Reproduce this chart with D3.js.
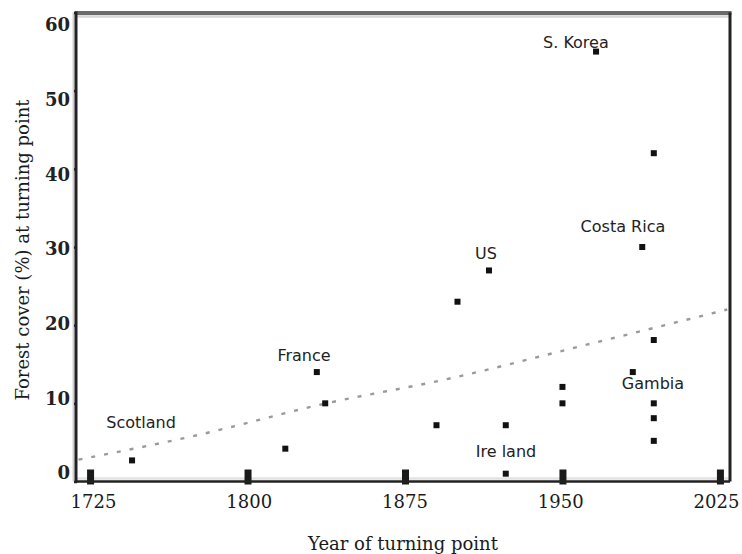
<!DOCTYPE html>
<html>
<head>
<meta charset="utf-8">
<script src="https://cdn.jsdelivr.net/npm/d3@7"></script>
<style>
  html, body { margin: 0; padding: 0; background: #fff; }
  svg { display: block; }
</style>
</head>
<body>
<svg id="chart" width="742" height="554"></svg>
<script>
// ---- data ----
const years  = [1745, 1818, 1833, 1837, 1890, 1900, 1915, 1923, 1923, 1950, 1950, 1966, 1983.5, 1988, 1993.5, 1993.5, 1993.5, 1993.5, 1993.5];
const cover  = [2.7, 4.2, 14, 10, 7.2, 23, 27, 7.2, 1, 12.1, 10, 55, 14, 30, 42, 18.1, 10, 8.1, 5.2];
const trendYears = [1719.5, 1774, 1837.5, 1895, 1961.5, 2028.5];
const trendCover = [2.8, 5.8, 10.0, 13.1, 17.5, 22.0];
const labelNames = ["S. Korea", "Costa Rica", "US", "Gambia", "Ire land", "France", "Scotland"];
const labelYears = [1956.4, 1978.8, 1913.6, 1993.1, 1923.1, 1826.9, 1749.3];
const labelCover = [56.1, 32.6, 29.2, 12.5, 3.9, 16.1, 7.5];
const xTicks = [1725, 1800, 1875, 1950, 2025];
const yTicks = [0, 10, 20, 30, 40, 50, 60];
const xTitle = "Year of turning point";
const yTitle = "Forest cover (%) at turning point";

// ---- layout ----
const svg = d3.select("#chart");
const L = 76, R = 730, T = 12.5, B = 481.5;
const x = d3.scaleLinear().domain([1718.3, 2029.8]).range([L, R]);
const y = d3.scaleLinear().domain([0, 60]).range([B, T]);
// tick labels in the reference sit slightly compressed relative to the ticks
const xLab = d3.scaleLinear().domain([1725, 2025]).range([93, 716]);
const yLab = d3.scaleLinear().domain([0, 60]).range([473, 25]);

const serif = "'DejaVu Serif', 'Liberation Serif', serif";
const sans = "'DejaVu Sans', 'Liberation Sans', sans-serif";

svg.append("defs").append("clipPath").attr("id", "plotclip")
  .append("rect").attr("x", L).attr("y", T).attr("width", R - L).attr("height", B - T);

// frame shading
svg.append("line").attr("x1", L - 2.5).attr("x2", L - 2.5).attr("y1", T).attr("y2", B)
  .attr("stroke", "#d0d0d0").attr("stroke-width", 2);
svg.append("line").attr("x1", L).attr("x2", R).attr("y1", T + 4).attr("y2", T + 4)
  .attr("stroke", "#d6d6d6").attr("stroke-width", 2.5);
svg.append("line").attr("x1", L).attr("x2", R).attr("y1", B - 3).attr("y2", B - 3)
  .attr("stroke", "#e2e2e2").attr("stroke-width", 2.5);

// trend line (dotted)
const pts = trendYears.map((d, i) => [d, trendCover[i]]);
svg.append("path")
  .attr("clip-path", "url(#plotclip)")
  .attr("d", d3.line().x(d => x(d[0])).y(d => y(d[1])).curve(d3.curveMonotoneX)(pts))
  .attr("fill", "none").attr("stroke", "#9a9a9a").attr("stroke-width", 2.4)
  .attr("stroke-dasharray", "4,9");

// x axis ticks (thick inward marks)
const gx = svg.append("g").attr("transform", `translate(0,${B})`)
  .call(d3.axisBottom(x).tickValues(xTicks).tickSizeInner(-12).tickSizeOuter(0).tickFormat(""));
gx.select(".domain").remove();
gx.selectAll(".tick line").attr("y1", 3).attr("stroke", "#1a1a1a").attr("stroke-width", 7);

// x tick labels
const gxl = svg.append("g").attr("transform", `translate(0,${B})`)
  .call(d3.axisBottom(xLab).tickValues(xTicks).tickSize(0).tickPadding(14).tickFormat(d3.format("d")));
gxl.select(".domain").remove();
gxl.selectAll("text").attr("font-family", serif).attr("font-size", 18).attr("fill", "#1a1a1a");

// y axis ticks
const gy = svg.append("g").attr("transform", `translate(${L + 1},0)`)
  .call(d3.axisLeft(y).tickValues(yTicks).tickSizeInner(3).tickSizeOuter(0).tickFormat(""));
gy.select(".domain").remove();
gy.selectAll(".tick line").attr("stroke", "#222").attr("stroke-width", 2.5);

// y tick labels
const gyl = svg.append("g").attr("transform", `translate(${L + 1},0)`)
  .call(d3.axisLeft(yLab).tickValues(yTicks).tickSize(0).tickPadding(7).tickFormat(d3.format("d")));
gyl.select(".domain").remove();
gyl.selectAll("text").attr("font-family", serif).attr("font-size", 18).attr("font-weight", "bold").attr("fill", "#222");

// frame
svg.append("line").attr("x1", L - 1).attr("x2", R + 1.5).attr("y1", T + 0.5).attr("y2", T + 0.5)
  .attr("stroke", "#6a6a6a").attr("stroke-width", 4);
svg.append("line").attr("x1", R).attr("x2", R).attr("y1", T).attr("y2", B)
  .attr("stroke", "#222").attr("stroke-width", 3);
svg.append("line").attr("x1", L).attr("x2", L).attr("y1", T - 1).attr("y2", B + 1.5)
  .attr("stroke", "#222").attr("stroke-width", 3);
svg.append("line").attr("x1", L).attr("x2", R).attr("y1", B).attr("y2", B)
  .attr("stroke", "#222").attr("stroke-width", 2.5);

// points
const data = years.map((d, i) => ({ year: d, v: cover[i] }));
svg.append("g").selectAll("rect").data(data).join("rect")
  .attr("x", d => x(d.year) - 3).attr("y", d => y(d.v) - 3)
  .attr("width", 6).attr("height", 6).attr("fill", "#111");

// country labels
const labels = labelNames.map((n, i) => ({ n, year: labelYears[i], v: labelCover[i] }));
svg.append("g").selectAll("text").data(labels).join("text")
  .attr("x", d => x(d.year)).attr("y", d => y(d.v))
  .attr("text-anchor", "middle").attr("dominant-baseline", "central")
  .attr("font-family", sans).attr("font-size", 16).attr("fill", "#222")
  .text(d => d.n);

// axis titles
svg.append("text").attr("x", 403).attr("y", 543)
  .attr("text-anchor", "middle").attr("dominant-baseline", "central")
  .attr("font-family", serif).attr("font-size", 18).attr("fill", "#1a1a1a").text(xTitle);
svg.append("text").attr("transform", "translate(22,250) rotate(-90)")
  .attr("text-anchor", "middle").attr("dominant-baseline", "central")
  .attr("font-family", serif).attr("font-size", 18).attr("fill", "#1a1a1a").text(yTitle);
</script>
</body>
</html>
